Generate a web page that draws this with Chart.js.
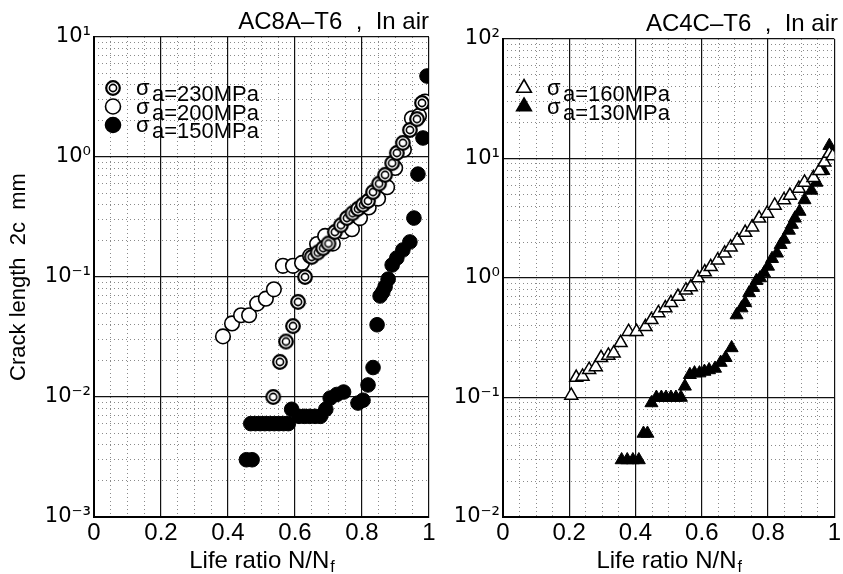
<!DOCTYPE html>
<html>
<head>
<meta charset="utf-8">
<script src="https://cdn.jsdelivr.net/npm/chart.js@4.4.1/dist/chart.umd.min.js"></script>
<style>
  html, body { margin: 0; padding: 0; background: #fff; }
  #wrap { position: relative; width: 843px; height: 574px; }
  #left { position: absolute; left: 0; top: 0; width: 440px; height: 574px; }
  #right { position: absolute; left: 440px; top: 0; width: 403px; height: 574px; }
</style>
</head>
<body>
<div id="wrap">
  <div id="left"><canvas id="c1"></canvas></div>
  <div id="right"><canvas id="c2"></canvas></div>
</div>
<script>
// axis ticks
const xTicks = [0, 0.2, 0.4, 0.6, 0.8, 1];
const xTickLabels = ['0', '0.2', '0.4', '0.6', '0.8', '1'];
const yTicksLeft = [0.001, 0.01, 0.1, 1, 10];
const yTickLabelsLeft = ['10⁻³', '10⁻²', '10⁻¹', '10⁰', '10¹'];
const yTicksRight = [0.01, 0.1, 1, 10, 100];
const yTickLabelsRight = ['10⁻²', '10⁻¹', '10⁰', '10¹', '10²'];

// AC8A-T6, in air
const lifeRatio230 = [0.535, 0.555, 0.573, 0.594, 0.609, 0.630, 0.650, 0.668, 0.684, 0.700, 0.719, 0.737, 0.755,
  0.772, 0.788, 0.803, 0.818, 0.833, 0.851, 0.869, 0.890, 0.904, 0.922, 0.943, 0.964, 0.979];
const crack230 = [0.010, 0.0196, 0.029, 0.039, 0.062, 0.10, 0.147, 0.16, 0.174, 0.19, 0.237, 0.27, 0.31,
  0.34, 0.37, 0.40, 0.43, 0.51, 0.60, 0.71, 0.89, 1.08, 1.31, 1.68, 2.07, 2.82];

const lifeRatio200 = [0.385, 0.412, 0.439, 0.463, 0.487, 0.513, 0.537, 0.564, 0.594, 0.621, 0.645, 0.666, 0.690,
  0.713, 0.745, 0.770, 0.794, 0.820, 0.848, 0.875, 0.899, 0.925, 0.949, 0.970, 0.988];
const crack200 = [0.032, 0.041, 0.048, 0.048, 0.060, 0.066, 0.079, 0.124, 0.124, 0.131, 0.150, 0.188, 0.220,
  0.190, 0.240, 0.250, 0.310, 0.380, 0.450, 0.560, 0.810, 1.15, 2.10, 2.20, 2.90];

const lifeRatio150 = [0.455, 0.472, 0.468, 0.482, 0.496, 0.510, 0.524, 0.538, 0.552, 0.566, 0.580, 0.590, 0.612,
  0.628, 0.644, 0.660, 0.676, 0.692, 0.705, 0.725, 0.745, 0.788, 0.803, 0.818, 0.833, 0.845, 0.854, 0.862,
  0.869, 0.878, 0.890, 0.904, 0.922, 0.943, 0.955, 0.967, 0.982, 0.994];
const crack150 = [0.003, 0.003, 0.006, 0.006, 0.006, 0.006, 0.006, 0.006, 0.006, 0.006, 0.006, 0.0079, 0.0069,
  0.0069, 0.0069, 0.0069, 0.0069, 0.0079, 0.0098, 0.0105, 0.011, 0.0089, 0.0094, 0.0126, 0.0176, 0.040, 0.0695, 0.075,
  0.083, 0.096, 0.126, 0.144, 0.168, 0.196, 0.31, 0.72, 1.44, 4.73];

// AC4C-T6, in air
const lifeRatio160 = [0.206, 0.221, 0.240, 0.260, 0.280, 0.296, 0.318, 0.334, 0.355, 0.379, 0.403, 0.430, 0.448,
  0.469, 0.490, 0.507, 0.528, 0.552, 0.567, 0.588, 0.609, 0.627, 0.648, 0.669, 0.687, 0.707, 0.731, 0.752,
  0.773, 0.797, 0.820, 0.848, 0.866, 0.893, 0.910, 0.937, 0.955, 0.970, 0.985, 0.995];
const crack160 = [0.104, 0.147, 0.150, 0.171, 0.180, 0.215, 0.225, 0.235, 0.287, 0.355, 0.355, 0.390, 0.447,
  0.510, 0.560, 0.620, 0.700, 0.790, 0.840, 1.00, 1.12, 1.24, 1.41, 1.61, 1.81, 2.07, 2.40, 2.66,
  3.16, 3.47, 4.05, 4.50, 4.90, 5.60, 6.30, 6.90, 7.90, 9.30, 11.0, 10.5];

const lifeRatio130 = [0.358, 0.375, 0.392, 0.410, 0.424, 0.436, 0.448, 0.463, 0.478, 0.492, 0.507, 0.522, 0.537,
  0.549, 0.564, 0.578, 0.593, 0.608, 0.622, 0.640, 0.657, 0.672, 0.690, 0.705, 0.720, 0.731, 0.743, 0.755,
  0.765, 0.776, 0.788, 0.800, 0.812, 0.827, 0.838, 0.848, 0.863, 0.872, 0.881, 0.895, 0.910, 0.931, 0.946,
  0.967, 0.985];
const crack130 = [0.030, 0.030, 0.030, 0.030, 0.050, 0.050, 0.090, 0.100, 0.100, 0.100, 0.100, 0.100, 0.100,
  0.124, 0.155, 0.160, 0.160, 0.165, 0.170, 0.175, 0.196, 0.215, 0.260, 0.490, 0.560, 0.620, 0.750, 0.830,
  0.950, 1.00, 1.10, 1.25, 1.45, 1.61, 1.90, 2.10, 2.50, 2.80, 3.16, 3.60, 4.50, 5.40, 6.30,
  7.90, 12.8];

const textFont = '"Liberation Sans", Arial, Helvetica, sans-serif';
const supFont = '"DejaVu Sans", sans-serif';

// minor (dotted) grid positions
const xMinor = [];
for (let i = 1; i < 20; i++) if (i % 4 !== 0) xMinor.push(i * 0.05);
function logMinor(lo, hi) {
  const out = [];
  for (let d = lo; d < hi; d *= 10) for (let k = 2; k <= 9; k++) out.push(d * k);
  return out;
}

function toPoints(xs, ys) {
  return xs.map((x, i) => ({ x: x, y: ys[i] }));
}

// double circle marker for 230MPa
function ringMarker() {
  const c = document.createElement('canvas');
  c.width = 18; c.height = 18;
  const g = c.getContext('2d');
  g.fillStyle = '#fff';
  g.strokeStyle = '#000';
  g.lineWidth = 2.2;
  g.beginPath(); g.arc(9, 9, 6.8, 0, Math.PI * 2); g.fill(); g.stroke();
  g.lineWidth = 1.6;
  g.beginPath(); g.arc(9, 9, 3.6, 0, Math.PI * 2); g.stroke();
  return c;
}
const ring = ringMarker();

function drawMarker(ctx, style, x, y) {
  ctx.save();
  ctx.strokeStyle = '#000';
  ctx.lineWidth = 1.6;
  if (style === 'ring') {
    ctx.drawImage(ring, x - 9, y - 9);
  } else if (style === 'open' || style === 'filled') {
    ctx.fillStyle = style === 'open' ? '#fff' : '#000';
    ctx.beginPath(); ctx.arc(x, y, 7.5, 0, Math.PI * 2); ctx.fill(); ctx.stroke();
  } else {
    const r = 8.5;
    ctx.fillStyle = style === 'openTri' ? '#fff' : '#000';
    ctx.beginPath();
    ctx.moveTo(x, y - r);
    ctx.lineTo(x + 0.866 * r, y + 0.5 * r);
    ctx.lineTo(x - 0.866 * r, y + 0.5 * r);
    ctx.closePath(); ctx.fill(); ctx.stroke();
  }
  ctx.restore();
}

// legend with sigma + lowered "a=..." and x title with subscript f
function annotations(items, dx, dy) {
  return {
    id: 'annotations',
    afterDraw(chart) {
      const ctx = chart.ctx;
      const a = chart.chartArea;
      ctx.save();
      ctx.fillStyle = '#000';
      items.forEach((it, i) => {
        const mx = a.left + dx;
        const my = a.top + dy + i * 18.5;
        drawMarker(ctx, it.style, mx, my);
        ctx.font = '22px ' + textFont;
        ctx.textAlign = 'left';
        ctx.textBaseline = 'alphabetic';
        ctx.fillText('σ', mx + 23, my + 7);
        ctx.fillText(it.label, mx + 39, my + 13);
      });
      // x axis title
      const main = 'Life ratio N/N';
      ctx.font = '24px ' + textFont;
      const w1 = ctx.measureText(main).width;
      ctx.font = '16px ' + textFont;
      const w2 = ctx.measureText('f').width;
      const cx = (a.left + a.right) / 2;
      const x0 = cx - (w1 + w2) / 2;
      ctx.font = '24px ' + textFont;
      ctx.fillText(main, x0, chart.height - 6);
      ctx.font = '16px ' + textFont;
      ctx.fillText('f', x0 + w1 + 1, chart.height - 2);
      ctx.restore();
    }
  };
}

function buildChart(canvasId, cfg) {
  const minorStyle = {
    grid: { color: '#8a8a8a', lineWidth: 1, drawTicks: false },
    border: { display: false, dash: [1, 3] },
    ticks: { display: false }
  };
  return new Chart(document.getElementById(canvasId), {
    type: 'scatter',
    data: { datasets: cfg.datasets },
    options: {
      responsive: true,
      maintainAspectRatio: false,
      animation: false,
      events: [],
      layout: { padding: { left: 0, right: cfg.padRight, top: 0, bottom: 0 }, autoPadding: false },
      plugins: {
        legend: { display: false },
        tooltip: { enabled: false },
        title: {
          display: true,
          text: cfg.title,
          align: 'end',
          color: '#000',
          font: { family: textFont, size: 24, weight: 'normal', lineHeight: 1.2 },
          padding: { top: cfg.titleTop, bottom: 37 - cfg.titleTop - 28.8 + (cfg.extraTop || 0) }
        }
      },
      scales: {
        xm: Object.assign({
          type: 'linear', position: 'bottom', min: 0, max: 1,
          afterBuildTicks: s => { s.ticks = xMinor.map(v => ({ value: v })); },
          afterFit: s => { s.height = 0; }
        }, minorStyle),
        ym: Object.assign({
          type: 'logarithmic', position: 'left', min: cfg.yTicks[0], max: cfg.yTicks[cfg.yTicks.length - 1],
          afterBuildTicks: s => { s.ticks = logMinor(cfg.yTicks[0], cfg.yTicks[cfg.yTicks.length - 1]).map(v => ({ value: v })); },
          afterFit: s => { s.width = 0; }
        }, minorStyle),
        x: {
          type: 'linear', position: 'bottom', min: 0, max: 1,
          afterBuildTicks: s => { s.ticks = xTicks.map(v => ({ value: v })); },
          afterFit: s => { s.height = 57; },
          grid: { color: '#111', lineWidth: 1.2, drawTicks: false },
          border: { display: true, color: '#000', width: 2 },
          ticks: {
            autoSkip: false, maxRotation: 0, padding: 2, color: '#000',
            font: { family: textFont, size: 24 },
            callback: (v, i) => xTickLabels[i]
          }
        },
        y: {
          type: 'logarithmic', position: 'left', min: cfg.yTicks[0], max: cfg.yTicks[cfg.yTicks.length - 1],
          afterBuildTicks: s => { s.ticks = cfg.yTicks.map(v => ({ value: v })); },
          afterFit: s => { s.width = cfg.yWidth; },
          grid: { color: '#111', lineWidth: 1.2, drawTicks: false },
          border: { display: true, color: '#000', width: 2 },
          title: cfg.yTitle ? {
            display: true, text: cfg.yTitle, color: '#000',
            font: { family: textFont, size: 22, lineHeight: 1.2 },
            padding: { top: 6, bottom: 0 }
          } : { display: false },
          ticks: {
            autoSkip: false, padding: 3, color: '#000',
            font: { family: supFont, size: 21 },
            callback: (v, i) => cfg.yTickLabels[i]
          }
        }
      }
    },
    plugins: [annotations(cfg.legend, cfg.legendDx, cfg.legendDy)]
  });
}

buildChart('c1', {
  title: 'AC8A–T6  ,  In air',
  titleTop: 8,
  padRight: 11,
  yWidth: 94,
  yTicks: yTicksLeft,
  yTickLabels: yTickLabelsLeft,
  yTitle: 'Crack length  2c  mm',
  legendDx: 19, legendDy: 51,
  legend: [
    { style: 'ring', label: 'a=230MPa' },
    { style: 'open', label: 'a=200MPa' },
    { style: 'filled', label: 'a=150MPa' }
  ],
  datasets: [
    { label: '230MPa', data: toPoints(lifeRatio230, crack230), pointStyle: ring, pointRadius: 7 },
    { label: '200MPa', data: toPoints(lifeRatio200, crack200), pointStyle: 'circle', pointRadius: 7.3,
      backgroundColor: '#fff', borderColor: '#000', borderWidth: 1.6 },
    { label: '150MPa', data: toPoints(lifeRatio150, crack150), pointStyle: 'circle', pointRadius: 7.3,
      backgroundColor: '#000', borderColor: '#000', borderWidth: 1 }
  ]
});

buildChart('c2', {
  title: 'AC4C–T6  ,  In air',
  titleTop: 10,
  extraTop: 2,
  padRight: 5,
  yWidth: 63,
  yTicks: yTicksRight,
  yTickLabels: yTickLabelsRight,
  yTitle: null,
  legendDx: 21, legendDy: 49,
  legend: [
    { style: 'openTri', label: 'a=160MPa' },
    { style: 'filledTri', label: 'a=130MPa' }
  ],
  datasets: [
    { label: '160MPa', data: toPoints(lifeRatio160, crack160), pointStyle: 'triangle', pointRadius: 7.5,
      backgroundColor: '#fff', borderColor: '#000', borderWidth: 1.5 },
    { label: '130MPa', data: toPoints(lifeRatio130, crack130), pointStyle: 'triangle', pointRadius: 7.5,
      backgroundColor: '#000', borderColor: '#000', borderWidth: 1 }
  ]
});
</script>
</body>
</html>
